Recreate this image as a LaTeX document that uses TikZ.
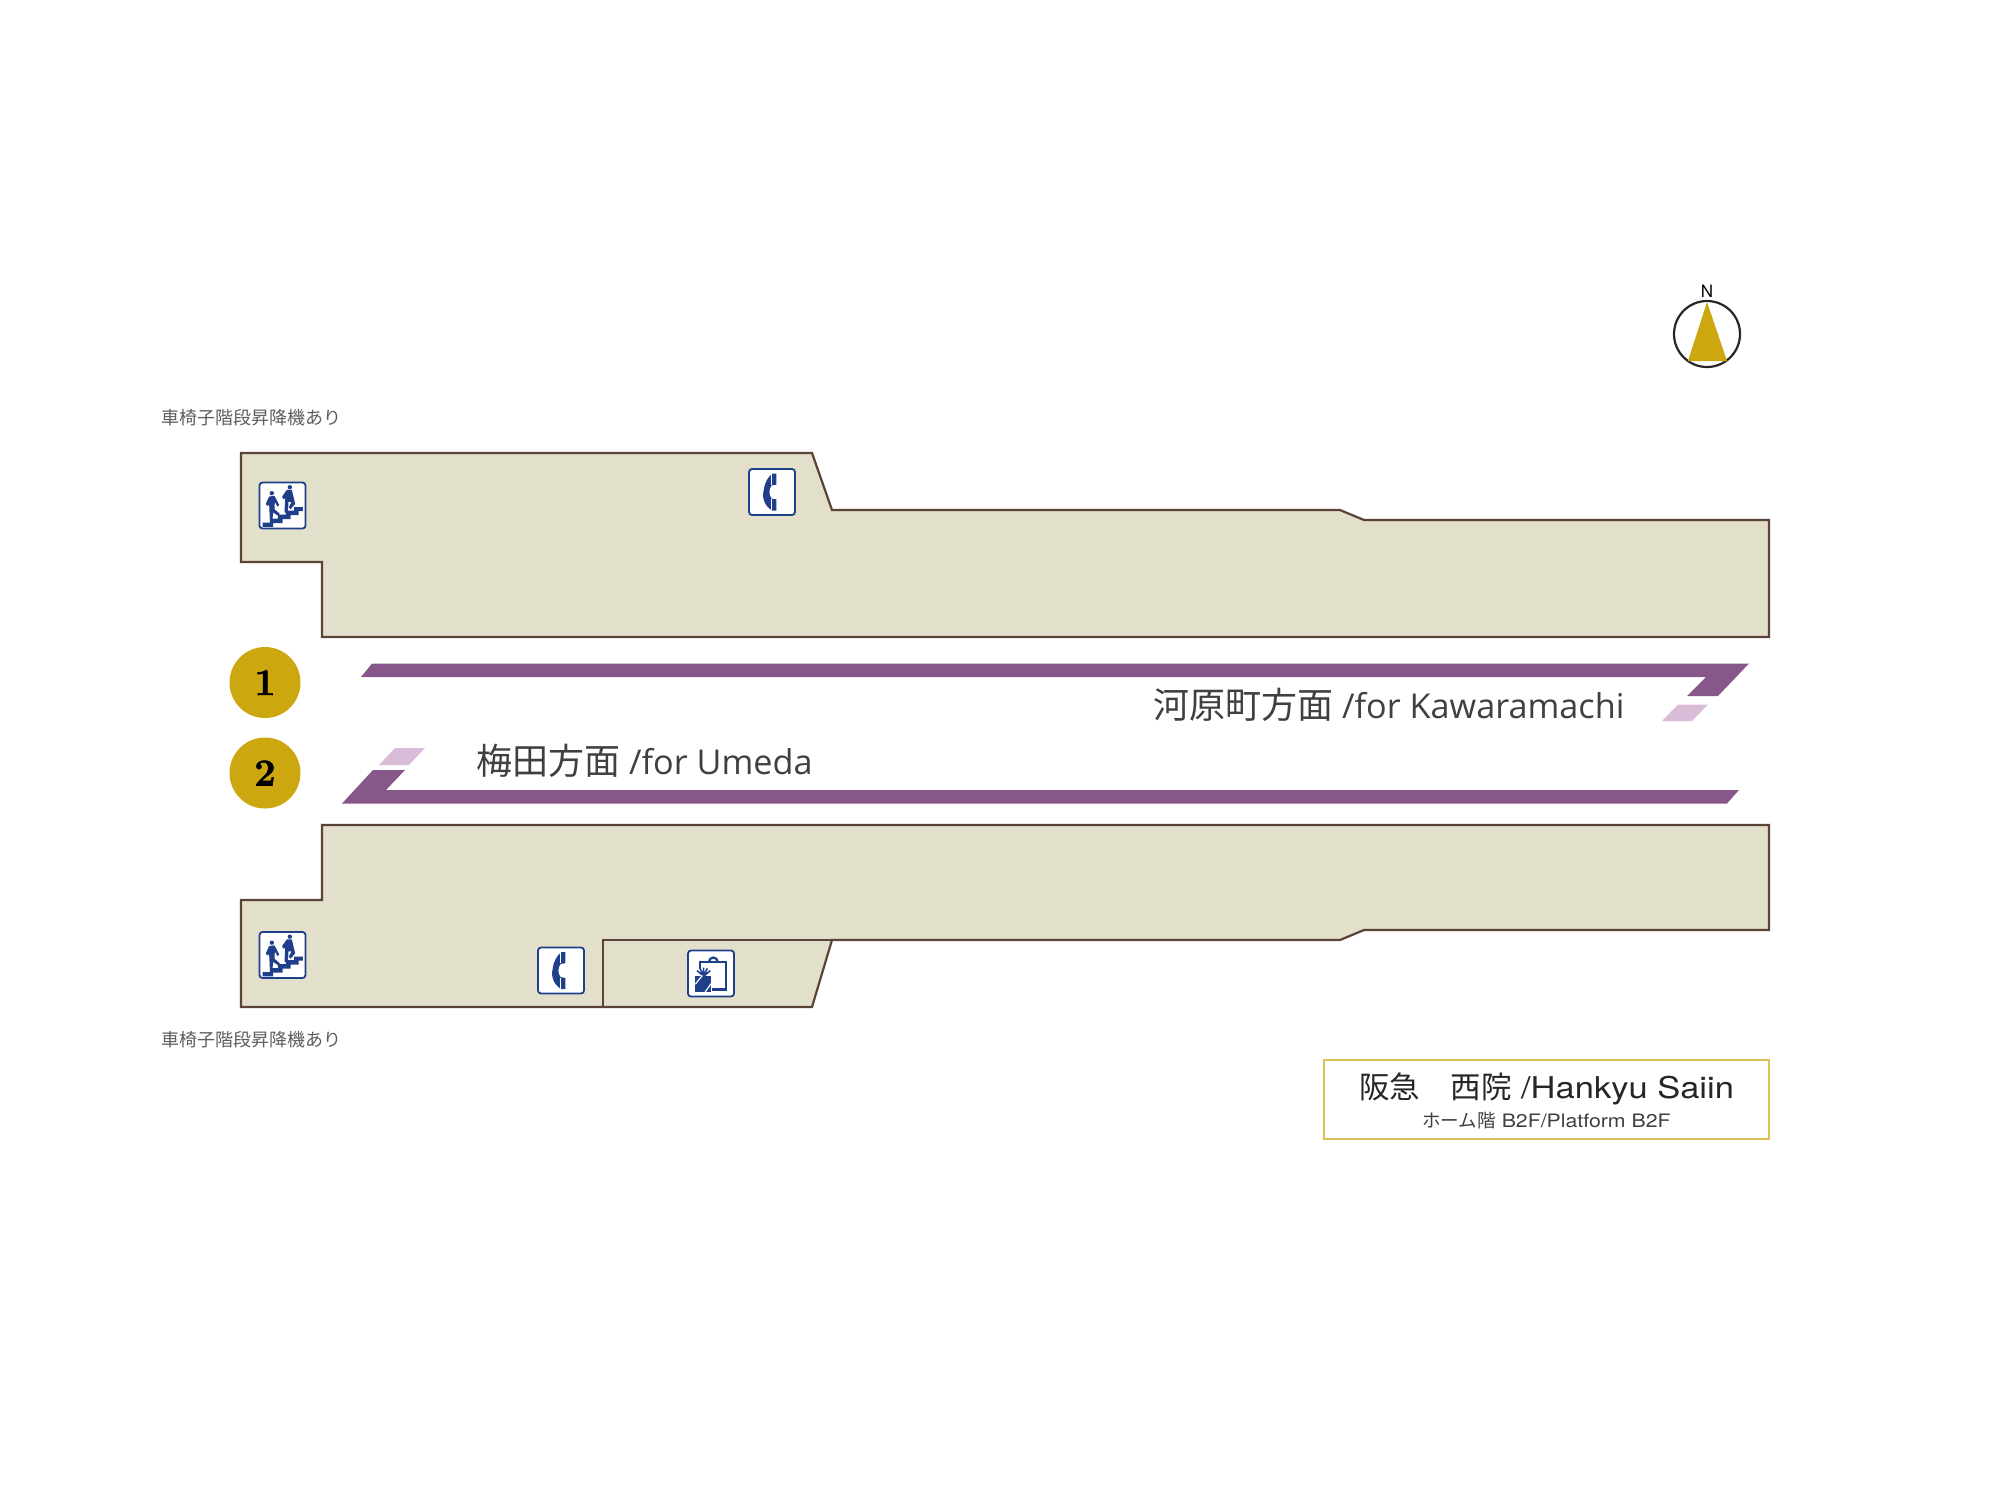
\documentclass[tikz,border=0pt]{standalone}
\usepackage{fontspec}
\setmainfont{Open Sans}
\newfontfamily\cjk{Noto Sans CJK JP}
\newfontfamily\wide[FakeStretch=1.15]{TeX Gyre Heros}
\newfontfamily\plain{TeX Gyre Heros}
\newfontfamily\numfont[BoldFont=Latin Modern Roman/B, BoldFeatures={FakeBold=1.5}]{Latin Modern Roman}

\definecolor{floorfill}{HTML}{E2DFCA}
\definecolor{floorline}{HTML}{5A4339}
\definecolor{track}{HTML}{865788}
\definecolor{tracklight}{HTML}{D9BCD8}
\definecolor{gold}{HTML}{CCA70F}
\definecolor{iconblue}{HTML}{1F3F8A}
\definecolor{textgray}{HTML}{404040}

\tikzset{
  floor/.style={draw=floorline, fill=floorfill, line width=2.2pt, line join=miter},
  trackno/.style={circle, fill=gold, minimum size=71pt, inner sep=0pt,
    font=\numfont\bfseries\fontsize{38}{38}\selectfont},
  bound/.style={text=textgray, inner sep=0pt, anchor=west, font=\fontsize{34.2}{36}\selectfont},
  note/.style={text=textgray!85, inner sep=0pt, anchor=west, font=\cjk\fontsize{18}{18}\selectfont},
  iconbox/.style={draw=iconblue, fill=white, line width=1.8pt, rounded corners=3pt,
    minimum size=46pt, inner sep=0pt},
  pics/stairs/.style={code={
    \begin{scope}[scale=1/3, shift={(-428,-347)}]
      \fill[iconblue] (368,398) -- (390,398) -- (390,386) -- (414,386) -- (414,374) -- (438,374)
        -- (438,362) -- (463,362) -- (463,352) -- (489,352) -- (489,364) -- (476,364) -- (476,376)
        -- (452,376) -- (452,388) -- (428,388) -- (428,400) -- (400,400) -- (400,411) -- (368,411) -- cycle;
      \fill[iconblue] (396,310) circle [radius=6.5];
      \fill[iconblue] (450,292) circle [radius=6.5];
      \fill[iconblue] (388,320) -- (404,318) -- (418,345) -- (413,350) -- (405,336) -- (404,358)
        -- (420,372) -- (415,378) -- (400,368) -- (398,388) -- (390,388) -- (388,345) -- (382,348) -- (378,342) -- cycle;
      \fill[iconblue] (441,300) -- (456,300) -- (462,325) -- (466,342) -- (452,358) -- (447,352)
        -- (455,336) -- (446,336) -- (444,368) -- (434,368) -- (436,325) -- (430,328) -- (427,320) -- cycle;
    \end{scope}
  }},
  pics/phone/.style={code={
    \begin{scope}[scale=1/3, shift={(-217,-185)}]
      \fill[iconblue] (230,130) -- (230,163) -- (216,165) .. controls (207,175) and (207,195) .. (216,205)
        -- (230,207) -- (230,241) -- (218,241) .. controls (196,228) and (186,205) .. (192,180)
        .. controls (194,160) and (204,140) .. (218,130) -- cycle;
      \draw[white, line width=0.8pt] (214,132) -- (214,163) (214,207) -- (214,240);
    \end{scope}
  }},
  pics/shop/.style={code={
    \begin{scope}[scale=1/3, shift={(-632,-160)}]
      \draw[iconblue, line width=2.2pt] (600,145) -- (600,125) -- (678,125) -- (678,208) -- (635,208);
      \draw[iconblue, line width=2.2pt] (626,125) arc (180:360:13);
      \fill[iconblue] (585,167) -- (632,167) -- (632,215) -- (585,215) -- cycle;
      \draw[iconblue, line width=1.6pt] \foreach \a in {40,65,90,115,140} {(610,168) -- ++(\a:-26)};
      \draw[white, line width=1.2pt] (606,166) -- (585,192) (634,188) -- (614,216);
    \end{scope}
  }}
}

\begin{document}
\begin{tikzpicture}[x=1pt, y=-1pt]

\useasboundingbox (0,0) rectangle (2000,1500);

% platform
\draw[floor] (241,453) -- (812,453) -- (832,510) -- (1340,510) -- (1364,520) -- (1769,520)
  -- (1769,637) -- (322,637) -- (322,562) -- (241,562) -- cycle;
\draw[floor] (322,825) -- (1769,825) -- (1769,930) -- (1364,930) -- (1340,940) -- (832,940)
  -- (812,1007) -- (241,1007) -- (241,900) -- (322,900) -- cycle;
\draw[floorline, line width=2.2pt] (603,1007) -- (603,940) -- (832,940);

% tracks
\fill[track] (372,663.5) -- (1749,663.5) -- (1718,696) -- (1687,696) -- (1706,677) -- (361,677) -- cycle;
\fill[tracklight] (1678,704.5) -- (1708,704.5) -- (1692,721) -- (1662,721) -- cycle;
\fill[track] (373,770) -- (405,770) -- (386,790) -- (1739,790) -- (1727,803.5) -- (342,803.5) -- cycle;
\fill[tracklight] (395,748) -- (425,748) -- (409,765) -- (379,765) -- cycle;

\foreach \s/\y in {1/682.5, 2/773}
{
  \node[trackno] (no\s) at (265,\y) {\s};
}

\node[bound] (kawaramachi) at (1153,705) {{\cjk\fontsize{36}{36}\selectfont 河原町方面} /for Kawaramachi};
\node[bound] (umeda) at (476,761) {{\cjk\fontsize{36}{36}\selectfont 梅田方面} /for Umeda};

\node[note] (lift1) at (161,418) {車椅子階段昇降機あり};
\node[note] (lift2) at (161,1040) {車椅子階段昇降機あり};

% icons
\node[iconbox] (stairs1) at (282.5,505.5) {};
\pic at (stairs1) {stairs};
\node[iconbox] (stairs2) at (282.5,955) {};
\pic at (stairs2) {stairs};
\node[iconbox] (phone1) at (772,492) {};
\pic at (phone1) {phone};
\node[iconbox] (phone2) at (561,970.5) {};
\pic at (phone2) {phone};
\node[iconbox] (shop) at (711,973.5) {};
\pic at (shop) {shop};

% compass
\draw[black!85, line width=2.2pt, fill=white] (1707,334) circle [radius=33];
\fill[gold] (1707,302) -- (1727,361) -- (1688,361) -- cycle;
\node[inner sep=0pt, font=\plain\fontsize{17}{17}\selectfont] (north) at (1707,291) {N};

% station name
\node[draw=gold!70, line width=1.3pt, fill=white, minimum width=445pt, minimum height=79pt, inner sep=0pt]
  (namebox) at (1546.5,1099.5) {};
\node[inner sep=0pt, font=\wide\fontsize{30}{30}\selectfont, text=black!85] (name) at (1546.5,1089)
  {{\cjk\fontsize{30.5}{30}\selectfont 阪急　西院} /Hankyu Saiin};
\node[inner sep=0pt, font=\wide\fontsize{18.5}{18}\selectfont, text=black!75] (level) at (1546.5,1121)
  {{\cjk ホーム階} B2F/Platform B2F};

\end{tikzpicture}
\end{document}
